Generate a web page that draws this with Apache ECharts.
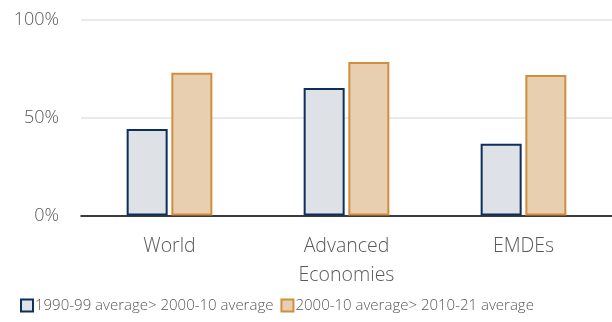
<!DOCTYPE html>
<html>
<head>
<meta charset="utf-8">
<script src="https://cdn.jsdelivr.net/npm/echarts@6/dist/echarts.min.js"></script>
<style>
  html, body { margin: 0; padding: 0; background: #fff; }
  #main { width: 612px; height: 322px; }
</style>
</head>
<body>
<div id="main"></div>
<script>
const categories = ['World', 'Advanced\nEconomies', 'EMDEs'];
const seriesNames = ['1990-99 average> 2000-10 average', '2000-10 average> 2010-21 average'];
const earlier = [44.2, 65.2, 36.7];
const later = [73, 78.5, 71.9];
const yTicks = [0, 50, 100];

const chart = echarts.init(document.getElementById('main'));
const font = 'Open Sans';
chart.setOption({
  animation: false,
  grid: { left: 81, right: 0, top: 20, bottom: 106.5 },
  legend: {
    left: 15, bottom: 4, icon: 'rect',
    itemWidth: 12, itemHeight: 12, itemGap: 7,
    textStyle: { fontFamily: font, fontSize: 15, fontWeight: 300, color: '#595959', padding: [0, 0, 0, -3] },
    data: seriesNames
  },
  xAxis: {
    type: 'category',
    data: categories,
    axisLine: { lineStyle: { color: '#000', width: 1.5 } },
    axisTick: { show: false },
    axisLabel: { fontFamily: font, fontSize: 19.5, fontWeight: 300, color: '#595959', margin: 16, lineHeight: 29 }
  },
  yAxis: {
    type: 'value',
    min: yTicks[0], max: yTicks[yTicks.length - 1], interval: 50,
    axisLine: { show: false },
    axisTick: { show: false },
    splitLine: { lineStyle: { color: '#E1E4E9', width: 1.5 } },
    axisLabel: { fontFamily: font, fontSize: 18, fontWeight: 300, color: '#595959', margin: 22, formatter: '{value}%' }
  },
  series: [
    {
      name: seriesNames[0], type: 'bar', data: earlier,
      barWidth: 41, barGap: '9%',
      itemStyle: { color: '#DEE2E6', borderColor: '#0C2F5C', borderWidth: 2 }
    },
    {
      name: seriesNames[1], type: 'bar', data: later,
      barWidth: 41,
      itemStyle: { color: '#E8CFAF', borderColor: '#D08E3E', borderWidth: 2 }
    }
  ]
});
</script>
</body>
</html>
